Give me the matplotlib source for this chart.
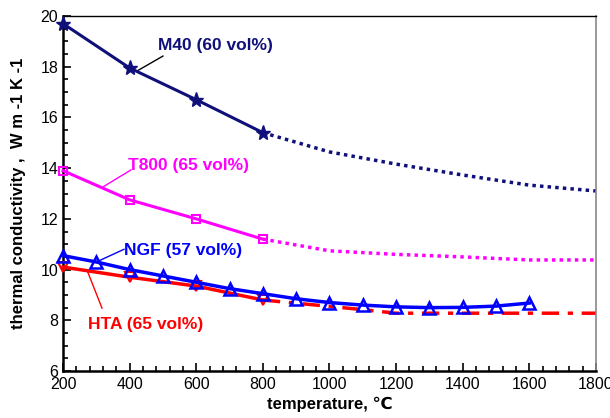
import matplotlib
matplotlib.use('Agg')
from matplotlib import pyplot as plt
from matplotlib.ticker import MultipleLocator

plt.rcParams['font.family'] = ['Liberation Sans', 'DejaVu Sans']

# measured points
m40_t = [200, 400, 600, 800]
m40_k = [19.7, 17.95, 16.7, 15.4]
m40_ext_t = [800, 1000, 1200, 1400, 1600, 1800]
m40_ext_k = [15.4, 14.64, 14.16, 13.73, 13.33, 13.1]

t800_t = [200, 400, 600, 800]
t800_k = [13.9, 12.75, 12.0, 11.2]
t800_ext_t = [800, 1000, 1200, 1400, 1600, 1800]
t800_ext_k = [11.2, 10.74, 10.6, 10.5, 10.38, 10.38]

ngf_t = [200, 300, 400, 500, 600, 700, 800, 900, 1000, 1100, 1200, 1300, 1400, 1500, 1600]
ngf_k = [10.55, 10.3, 10.0, 9.75, 9.5, 9.25, 9.05, 8.85, 8.7, 8.6, 8.53, 8.5, 8.51, 8.56, 8.68]

hta_t = [200, 400, 600, 800]
hta_k = [10.1, 9.7, 9.35, 8.8]
hta_ext_t = [800, 1000, 1100, 1200, 1800]
hta_ext_k = [8.8, 8.55, 8.42, 8.28, 8.28]

navy = '#10107a'
mag = '#ff00ff'
blue = '#0000ff'
red = '#ff0000'

fig = plt.figure(figsize=(6.10, 4.18), dpi=100)
ax = fig.add_axes([0.1033, 0.1124, 0.8737, 0.8493])

ax.plot(m40_ext_t, m40_ext_k, color=navy, lw=2.5, linestyle=(0, (1, 1.2)))
ax.plot(m40_t, m40_k, color=navy, lw=2.2, marker='*', markersize=11, clip_on=False, zorder=5)

ax.plot(t800_ext_t, t800_ext_k, color=mag, lw=2.5, linestyle=(0, (1, 1.2)))
ax.plot(t800_t, t800_k, color=mag, lw=2.2, marker='s', markersize=6,
        markerfacecolor='none', markeredgewidth=1.5, clip_on=False, zorder=5)

ax.plot(hta_ext_t, hta_ext_k, color=red, lw=2.5, linestyle=(0, (5, 2.5, 1.5, 2.5)))
ax.plot(hta_t, hta_k, color=red, lw=2.5, marker='v', markersize=7,
        markerfacecolor='none', markeredgewidth=1.5, clip_on=False, zorder=5)

ax.plot(ngf_t, ngf_k, color=blue, lw=2.5, marker='^', markersize=8,
        markerfacecolor='none', markeredgewidth=1.8, clip_on=False, zorder=6)

# labels with leader lines
lab = dict(fontsize=12.5, fontweight='bold', va='center')
ax.text(485, 18.85, 'M40 (60 vol%)', color=navy, **lab)
ax.plot([500, 422], [18.42, 17.83], color='black', lw=1)
ax.text(395, 14.1, 'T800 (65 vol%)', color=mag, **lab)
ax.plot([404, 320], [13.93, 13.26], color=mag, lw=1)
ax.text(383, 10.77, 'NGF (57 vol%)', color=blue, **lab)
ax.plot([383, 302], [10.8, 10.31], color=blue, lw=1)
ax.text(275, 7.85, 'HTA (65 vol%)', color=red, **lab)
ax.plot([317, 272], [8.48, 9.98], color=red, lw=1)

ax.set_xlim(200, 1800)
ax.set_ylim(6, 20)
ax.xaxis.set_major_locator(MultipleLocator(200))
ax.xaxis.set_minor_locator(MultipleLocator(40))
ax.yaxis.set_major_locator(MultipleLocator(2))
ax.yaxis.set_minor_locator(MultipleLocator(0.5))
ax.tick_params(which='both', direction='in', top=False, right=False, labelsize=11.5)
ax.tick_params(which='major', length=6, width=1.2)
ax.tick_params(which='minor', length=3.5, width=1.2)
ax.tick_params(axis='x', pad=4)
ax.spines['left'].set_linewidth(1.8)
ax.spines['bottom'].set_linewidth(1.8)
ax.spines['top'].set_linewidth(1)
ax.spines['right'].set_linewidth(1.2)
ax.spines['right'].set_color('#888888')

ax.set_xlabel('temperature, \u2103', fontsize=12, fontweight='bold', labelpad=4)
ax.set_ylabel('thermal conductivity ,  W m -1 K -1', fontsize=12, fontweight='bold', labelpad=10)

plt.savefig('out.png', dpi=100)
